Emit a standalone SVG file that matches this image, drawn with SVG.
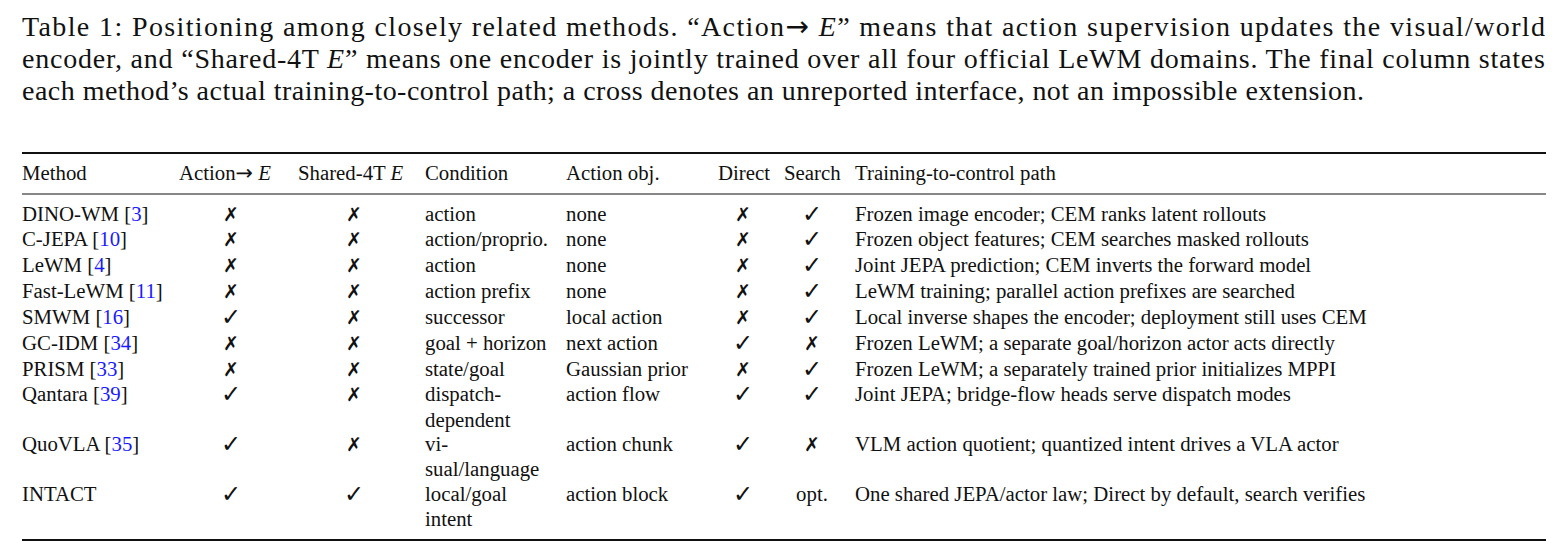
<svg xmlns="http://www.w3.org/2000/svg" width="1567" height="557" viewBox="0 0 1567 557">
<style>
text{font-family:"Liberation Serif","Times New Roman",serif;fill:#111}
.cap{font-size:28px}
.t{font-size:20.8px}
.c{text-anchor:middle}
.m{font-family:"DejaVu Sans",sans-serif;font-size:19px}
.k{font-family:"DejaVu Sans",sans-serif;font-size:24px}
.ar{font-family:"DejaVu Sans",sans-serif}
.r{fill:#1a1aff}
.i{font-style:italic}
</style>
<rect width="1567" height="557" fill="#fff"/>
<g id="caption">
<text class="cap" x="22" y="36" textLength="1523" lengthAdjust="spacing">Table 1: Positioning among closely related methods. “Action<tspan class="ar">→</tspan> <tspan class="i">E</tspan>” means that action supervision updates the visual/world</text>
<text class="cap" x="22" y="68" textLength="1523" lengthAdjust="spacing">encoder, and “Shared-4T <tspan class="i">E</tspan>” means one encoder is jointly trained over all four official LeWM domains. The final column states</text>
<text class="cap" x="22" y="100" textLength="1342" lengthAdjust="spacing">each method’s actual training-to-control path; a cross denotes an unreported interface, not an impossible extension.</text>
</g>
<g id="rules" stroke="#111">
<line x1="22" y1="153" x2="1546" y2="153" stroke-width="2"/>
<line x1="22" y1="194" x2="1546" y2="194" stroke-width="1.2"/>
<line x1="22" y1="540" x2="1546" y2="540" stroke-width="2"/>
</g>
<g id="header">
<text class="t" x="22" y="180">Method</text>
<text class="t" x="179" y="180">Action<tspan class="ar">→</tspan> <tspan class="i">E</tspan></text>
<text class="t" x="298" y="180">Shared-4T <tspan class="i">E</tspan></text>
<text class="t" x="425" y="180">Condition</text>
<text class="t" x="566" y="180">Action obj.</text>
<text class="t" x="718" y="180">Direct</text>
<text class="t" x="784" y="180">Search</text>
<text class="t" x="855" y="180">Training-to-control path</text>
</g>
<g id="body">
<text class="t" x="22" y="221">DINO-WM [<tspan class="r">3</tspan>]</text><text class="m c" x="231" y="221">✗</text><text class="m c" x="354" y="221">✗</text><text class="t" x="425" y="221">action</text><text class="t" x="566" y="221">none</text><text class="m c" x="743" y="221">✗</text><text class="k c" x="812" y="222">✓</text><text class="t" x="855" y="221">Frozen image encoder; CEM ranks latent rollouts</text>
<text class="t" x="22" y="246">C-JEPA [<tspan class="r">10</tspan>]</text><text class="m c" x="231" y="246">✗</text><text class="m c" x="354" y="246">✗</text><text class="t" x="425" y="246">action/proprio.</text><text class="t" x="566" y="246">none</text><text class="m c" x="743" y="246">✗</text><text class="k c" x="812" y="247">✓</text><text class="t" x="855" y="246">Frozen object features; CEM searches masked rollouts</text>
<text class="t" x="22" y="272">LeWM [<tspan class="r">4</tspan>]</text><text class="m c" x="231" y="272">✗</text><text class="m c" x="354" y="272">✗</text><text class="t" x="425" y="272">action</text><text class="t" x="566" y="272">none</text><text class="m c" x="743" y="272">✗</text><text class="k c" x="812" y="273">✓</text><text class="t" x="855" y="272">Joint JEPA prediction; CEM inverts the forward model</text>
<text class="t" x="22" y="298">Fast-LeWM [<tspan class="r">11</tspan>]</text><text class="m c" x="231" y="298">✗</text><text class="m c" x="354" y="298">✗</text><text class="t" x="425" y="298">action prefix</text><text class="t" x="566" y="298">none</text><text class="m c" x="743" y="298">✗</text><text class="k c" x="812" y="299">✓</text><text class="t" x="855" y="298">LeWM training; parallel action prefixes are searched</text>
<text class="t" x="22" y="324">SMWM [<tspan class="r">16</tspan>]</text><text class="k c" x="231" y="325">✓</text><text class="m c" x="354" y="324">✗</text><text class="t" x="425" y="324">successor</text><text class="t" x="566" y="324">local action</text><text class="m c" x="743" y="324">✗</text><text class="k c" x="812" y="325">✓</text><text class="t" x="855" y="324">Local inverse shapes the encoder; deployment still uses CEM</text>
<text class="t" x="22" y="350">GC-IDM [<tspan class="r">34</tspan>]</text><text class="m c" x="231" y="350">✗</text><text class="m c" x="354" y="350">✗</text><text class="t" x="425" y="350">goal + horizon</text><text class="t" x="566" y="350">next action</text><text class="k c" x="743" y="351">✓</text><text class="m c" x="812" y="350">✗</text><text class="t" x="855" y="350">Frozen LeWM; a separate goal/horizon actor acts directly</text>
<text class="t" x="22" y="376">PRISM [<tspan class="r">33</tspan>]</text><text class="m c" x="231" y="376">✗</text><text class="m c" x="354" y="376">✗</text><text class="t" x="425" y="376">state/goal</text><text class="t" x="566" y="376">Gaussian prior</text><text class="m c" x="743" y="376">✗</text><text class="k c" x="812" y="377">✓</text><text class="t" x="855" y="376">Frozen LeWM; a separately trained prior initializes MPPI</text>
<text class="t" x="22" y="401">Qantara [<tspan class="r">39</tspan>]</text><text class="k c" x="231" y="402">✓</text><text class="m c" x="354" y="401">✗</text><text class="t" x="425" y="401">dispatch-</text><text class="t" x="425" y="427">dependent</text><text class="t" x="566" y="401">action flow</text><text class="k c" x="743" y="402">✓</text><text class="k c" x="812" y="402">✓</text><text class="t" x="855" y="401">Joint JEPA; bridge-flow heads serve dispatch modes</text>
<text class="t" x="22" y="451">QuoVLA [<tspan class="r">35</tspan>]</text><text class="k c" x="231" y="452">✓</text><text class="m c" x="354" y="451">✗</text><text class="t" x="425" y="451">vi-</text><text class="t" x="425" y="476">sual/language</text><text class="t" x="566" y="451">action chunk</text><text class="k c" x="743" y="452">✓</text><text class="m c" x="812" y="451">✗</text><text class="t" x="855" y="451">VLM action quotient; quantized intent drives a VLA actor</text>
<text class="t" x="22" y="501">INTACT</text><text class="k c" x="231" y="502">✓</text><text class="k c" x="354" y="502">✓</text><text class="t" x="425" y="501">local/goal</text><text class="t" x="425" y="526">intent</text><text class="t" x="566" y="501">action block</text><text class="k c" x="743" y="502">✓</text><text class="t c" x="812" y="501">opt.</text><text class="t" x="855" y="501">One shared JEPA/actor law; Direct by default, search verifies</text>
</g>
</svg>
